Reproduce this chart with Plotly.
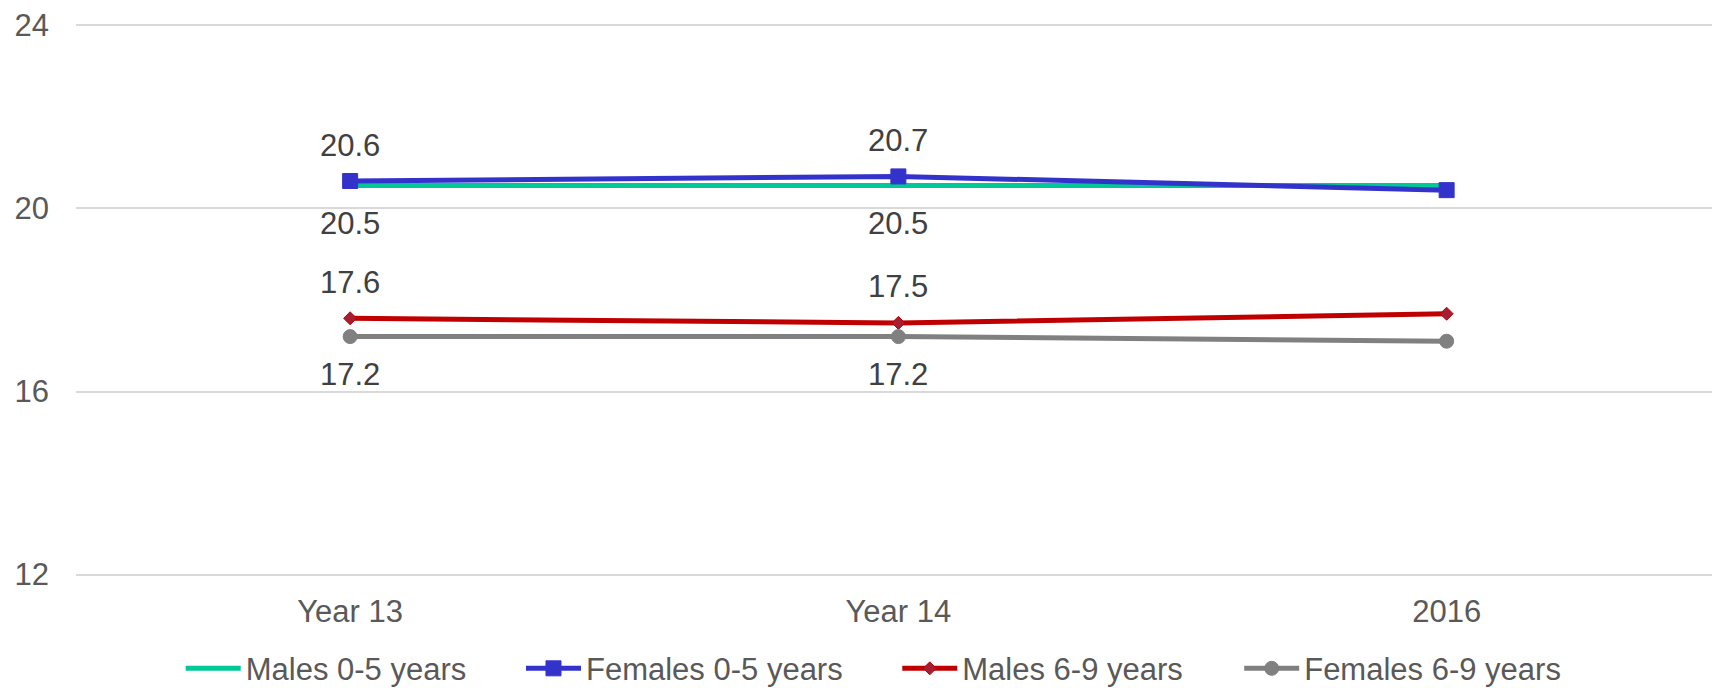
import plotly.graph_objects as go

categories = ["Year 13", "Year 14", "2016"]
males_0_5 = [20.5, 20.5, 20.5]
females_0_5 = [20.6, 20.7, 20.4]
males_6_9 = [17.6, 17.5, 17.7]
females_6_9 = [17.2, 17.2, 17.1]
y_ticks = [12, 16, 20, 24]

FONT = "Liberation Sans, Arial, sans-serif"
series = [
    dict(name="Males 0-5 years", y=males_0_5, color="#00C896", symbol=None,
         fill=None, size=0, label_shift=-38),
    dict(name="Females 0-5 years", y=females_0_5, color="#3333CC", symbol="square",
         fill="#3333CC", size=15, label_shift=36),
    dict(name="Males 6-9 years", y=males_6_9, color="#C00000", symbol="diamond",
         fill="#A51E32", size=10, label_shift=36),
    dict(name="Females 6-9 years", y=females_6_9, color="#808080", symbol="circle",
         fill="#808080", size=14, label_shift=-38),
]
legend_x = [0.064, 0.272, 0.502, 0.711]

fig = go.Figure()
annotations = []
for i, s in enumerate(series):
    lg = "legend" if i == 0 else f"legend{i+1}"
    if s["symbol"]:
        marker = dict(symbol=s["symbol"], size=s["size"], color=s["fill"],
                      line=dict(color=s["color"], width=1))
        mode = "lines+markers"
    else:
        marker = None
        mode = "lines"
    fig.add_trace(go.Scatter(
        x=categories, y=s["y"], name=s["name"], mode=mode,
        line=dict(color=s["color"], width=5),
        marker=marker, legend=lg,
    ))
    for c, v in zip(categories, s["y"]):
        annotations.append(dict(
            x=c, y=v, xref="x", yref="y", text=f"{v:.1f}", showarrow=False,
            yshift=s["label_shift"], yanchor="middle", xanchor="center",
            font=dict(family=FONT, size=31, color="#404040"),
        ))

legend_common = dict(orientation="h", yanchor="top", y=-0.119, xanchor="left",
                     font=dict(family=FONT, size=31, color="#595959"),
                     bgcolor="rgba(0,0,0,0)", itemwidth=55)
layout_legends = {}
for i, lx in enumerate(legend_x):
    key = "legend" if i == 0 else f"legend{i+1}"
    layout_legends[key] = dict(legend_common, x=lx)

fig.update_layout(
    width=1712, height=688,
    margin=dict(l=76, r=0, t=24, b=112, pad=0, autoexpand=False),
    paper_bgcolor="white", plot_bgcolor="white",
    font=dict(family=FONT, size=31, color="#595959"),
    showlegend=True,
    annotations=annotations,
    xaxis=dict(type="category", range=[-0.5, 2.484], showgrid=False,
               showline=False, zeroline=False, ticks="",
               tickfont=dict(family=FONT, size=31, color="#595959"),
               ticklabelstandoff=14),
    yaxis=dict(range=[11.97, 24.03], tickvals=y_ticks, showgrid=True,
               gridcolor="#D9D9D9", gridwidth=2, zeroline=False,
               showline=False, ticks="",
               tickfont=dict(family=FONT, size=31, color="#595959"),
               ticklabelstandoff=26),
    **layout_legends,
)

fig.write_html("out.html")
